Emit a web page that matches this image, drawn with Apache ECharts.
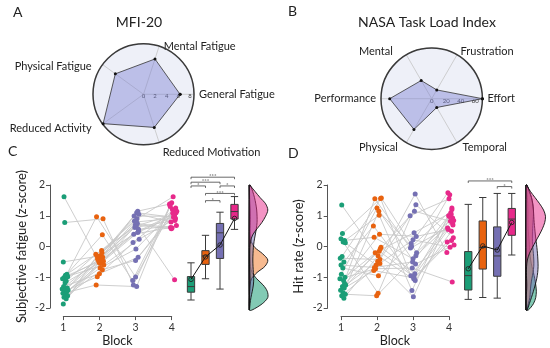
<!DOCTYPE html>
<html><head><meta charset="utf-8">
<script src="https://cdn.jsdelivr.net/npm/echarts@6/dist/echarts.min.js"></script>
<style>html,body{margin:0;padding:0;background:#fff}#c{width:550px;height:348px}</style>
</head><body><div id="c"></div>
<script>
// ---------- Panel A / B data ----------
const mfiLabels = ['General Fatigue','Mental Fatigue','Physical Fatigue','Reduced Activity','Reduced Motivation'];
const mfiValues = [6.3, 6.4, 6.0, 8.6, 6.0];
const mfiTicks = [0, 2, 4, 6, 8];
const tlxLabels = ['Effort','Frustration','Mental','Performance','Physical','Temporal'];
const tlxValues = [70, 14, 29, 58, 49, 14];
const tlxTicks = [0, 20, 40, 60];

// ---------- Panel C / D data ----------
const blocks = ['1','2','3','4'];
const yTicks = [-2, -1, 0, 1, 2];
// subjective fatigue (z-score), per block, same subject order
const fatB1 = [1.62,0.78,-0.50,-0.90,-0.93,-0.98,-1.00,-1.05,-1.12,-1.18,-1.30,-1.35,-1.38,-1.40,-1.42,-1.45,-1.48,-1.52,-1.55,-1.60,-1.65,-1.70,-1.87,-0.95];
const fatB2 = [-0.40,0.90,-0.30,0.97,-0.13,-0.45,-0.60,0.38,-0.25,-0.50,-0.88,-0.35,-0.42,-0.20,-0.70,-0.98,-0.48,-1.25,-0.38,-0.52,-0.75,-0.55,-0.30,-0.45];
const fatB3 = [1.10,-1.25,0.50,-0.99,0.83,1.15,0.24,-1.10,0.67,0.40,-0.35,0.90,0.62,1.05,-0.08,0.13,0.75,-1.30,0.99,0.56,-0.45,0.46,0.70,0.80];
const fatB4 = [0.95,1.30,1.10,1.20,-1.08,1.38,0.90,1.42,1.05,0.62,1.15,1.62,0.85,0.80,1.18,1.25,0.60,1.35,0.98,0.68,1.08,1.00,0.58,0.92];
// hit rate (z-score)
const hitB1 = [1.35,0.42,0.25,0.20,0.15,0.12,-0.32,-0.38,-0.50,-0.70,-0.90,-1.00,-1.05,-1.10,-1.25,-1.30,-1.35,-1.42,-1.50,-1.55,-1.60,-1.68,-0.60,-1.20];
const hitB2 = [-0.20,1.56,-1.52,0.30,1.02,-0.60,1.58,-0.42,0.67,-0.95,1.25,-0.08,-0.72,0.40,-0.48,1.55,-0.02,-0.78,1.15,-1.60,-0.55,-0.30,-0.68,-0.15];
const hitB3 = [0.45,-0.95,1.36,-0.40,-1.43,1.71,-0.20,1.00,-1.05,0.10,-0.57,1.15,-0.70,0.33,-1.63,-0.05,-0.88,-1.02,0.00,-0.30,0.22,-1.10,-0.50,-0.98];
const hitB4 = [1.10,0.60,0.29,1.68,1.25,-0.19,0.93,1.55,0.20,1.75,0.05,0.82,-1.15,0.55,1.05,0.70,0.98,0.15,1.20,0.85,-0.02,0.50,1.00,0.75];
// horizontal jitter of the dots (block units)
const jit1 = [0.02,0.04,0.00,0.10,0.06,0.12,0.03,-0.02,0.08,0.05,0.01,0.11,-0.03,0.07,0.13,0.04,0.09,-0.01,0.06,0.12,0.02,0.08,0.00,0.10];
const jit2 = [-0.05,0.10,0.03,-0.08,0.06,-0.02,0.12,0.08,-0.10,0.04,0.00,0.09,-0.04,0.07,0.02,-0.06,0.11,-0.09,0.05,-0.01,0.08,0.03,-0.07,0.06];
const jit3 = [0.03,-0.06,0.08,0.00,-0.03,0.06,0.10,-0.08,0.02,-0.05,0.07,0.04,-0.02,0.09,0.01,-0.07,0.05,0.03,-0.04,0.08,0.00,0.06,-0.01,0.02];
const jit4 = [0.05,-0.04,0.12,0.02,0.08,-0.06,0.10,0.00,0.07,-0.03,0.14,0.04,0.09,-0.02,0.06,0.11,0.01,-0.05,0.08,0.13,0.03,0.07,-0.01,0.10];
// box stats [min, Q1, median, Q3, max]
const fatBox = [[-1.68,-1.43,-1.25,-0.93,-0.49],[-1.00,-0.54,-0.27,-0.10,0.39],[-1.33,-0.35,0.47,0.77,1.13],[0.58,0.91,1.15,1.38,1.63]];
const hitBox = [[-1.66,-1.36,-0.90,-0.13,1.38],[-1.60,-0.69,0.00,0.85,1.60],[-1.62,-0.92,-0.27,0.66,1.73],[-0.24,0.39,0.91,1.25,1.73]];
const fatMeans = [-1.02, -0.30, 0.08, 0.93];
const hitMeans = [-0.68, 0.05, -0.08, 0.80];
// significance brackets [from block idx, to block idx, height]
const fatSig = [[0,3,2.25],[0,2,2.09],[0,1,1.97],[2,3,1.97],[1,3,1.73],[1,2,1.50]];
const fatSigLabels = ['***','***','*','*','***','*'];
const hitSig = [[0,3,2.13],[2,3,1.95]];
const hitSigLabels = ['***','*'];
// half-violin widths (relative) at these levels
const vLevels = [2.0,1.8,1.6,1.4,1.2,1.0,0.8,0.6,0.4,0.2,0,-0.2,-0.4,-0.6,-0.8,-1.0,-1.2,-1.4,-1.6,-1.8,-2.0];
const fatViolin = [
  [0,0.01,0.02,0.03,0.04,0.04,0.04,0.03,0.02,0.02,0.02,0.03,0.04,0.06,0.15,0.40,0.75,0.97,1.0,0.7,0.15],
  [0,0,0.01,0.02,0.04,0.05,0.05,0.04,0.05,0.10,0.30,0.72,1.0,0.85,0.42,0.12,0.04,0.02,0.01,0,0],
  [0.05,0.18,0.28,0.35,0.40,0.42,0.42,0.38,0.32,0.26,0.22,0.20,0.19,0.20,0.22,0.24,0.22,0.16,0.09,0.04,0.01],
  [0.02,0.30,0.58,0.88,1.0,0.88,0.68,0.42,0.18,0.07,0.03,0.02,0.02,0.02,0.03,0.04,0.03,0.02,0.01,0,0]
];
const hitViolin = [
  [0.02,0.05,0.07,0.09,0.10,0.10,0.10,0.11,0.13,0.16,0.18,0.20,0.24,0.30,0.38,0.45,0.50,0.53,0.50,0.38,0.12],
  [0.05,0.15,0.28,0.35,0.38,0.38,0.36,0.34,0.33,0.33,0.35,0.38,0.40,0.40,0.36,0.30,0.25,0.22,0.20,0.12,0.04],
  [0.05,0.18,0.28,0.34,0.38,0.40,0.42,0.45,0.48,0.52,0.56,0.59,0.61,0.62,0.60,0.55,0.47,0.38,0.28,0.17,0.06],
  [0.02,0.22,0.46,0.70,0.90,1.0,0.96,0.84,0.68,0.50,0.33,0.17,0.07,0.03,0.02,0.03,0.04,0.03,0.01,0,0]
];

// ---------- styling (layout only) ----------
const colors = ['#1b9e77','#e8620f','#7570b3','#e7298a'];
const violinFill = ['rgba(27,158,119,0.55)','rgba(242,140,70,0.6)','rgba(117,112,179,0.5)','rgba(231,41,138,0.5)'];
const FONT = 'Lato';
const TXT = '#222';
// label nudges [top, right, bottom, left] padding for radar category labels
const mfiLabelPad = [[0,0,0,0],[0,0,-10.5,3],[0,7,-10,0],[-4,7,0,0],[0,0,0,2]];
const tlxLabelPad = [[0,0,0,0],[0,0,-6.5,1],[0,11,-6.5,0],[0,0,0,0],[-5,6,0,0],[-5,0,0,3]];

// ---------- build ----------
const grids = [], xAxes = [], yAxes = [], series = [];

function polarLoop(vals) {
  const n = vals.length;
  const d = vals.map((v, i) => [v, i * 360 / n]);
  d.push([vals[0], 360]);
  return d;
}

function addPanel(cfg) {
  const g = grids.length;
  const top = 185, h = 125;
  grids.push({left: cfg.scLeft, top: top, width: cfg.scWidth, height: h});
  grids.push({left: cfg.boxLeft, top: top, width: 58, height: h});
  grids.push({left: cfg.vLeft, top: top, width: cfg.vWidth, height: h});
  const axisCol = '#555';
  xAxes.push({gridIndex: g, type: 'value', min: 1, max: 4, interval: 1, offset: 8,
    axisLine: {show: true, onZero: false, lineStyle: {color: axisCol, width: 1}},
    axisTick: {show: true, length: 4, lineStyle: {color: axisCol}},
    axisLabel: {color: '#333', fontSize: 10.5, fontFamily: FONT, margin: 6},
    splitLine: {show: false},
    name: 'Block', nameLocation: 'middle', nameGap: 17,
    nameTextStyle: {fontSize: 12.5, color: TXT, fontFamily: FONT}});
  yAxes.push({gridIndex: g, type: 'value', min: yTicks[0], max: yTicks[yTicks.length-1], interval: 1, offset: 13.3,
    axisLine: {show: true, onZero: false, lineStyle: {color: axisCol, width: 1}},
    axisTick: {show: true, length: 4, lineStyle: {color: axisCol}},
    axisLabel: {color: '#333', fontSize: 10.5, fontFamily: FONT, margin: 5},
    splitLine: {show: false},
    name: cfg.yName, nameLocation: 'middle', nameGap: cfg.nameGap, nameRotate: 90,
    nameTextStyle: {fontSize: 13, color: TXT, fontFamily: FONT}});
  xAxes.push({gridIndex: g + 1, type: 'category', data: blocks, show: false});
  yAxes.push({gridIndex: g + 1, type: 'value', min: -2, max: 2, show: false});
  xAxes.push({gridIndex: g + 2, type: 'value', min: 0, max: 1, show: false});
  yAxes.push({gridIndex: g + 2, type: 'value', min: -2, max: 2, show: false});

  const vals = cfg.vals, jits = [jit1, jit2, jit3, jit4];
  // connecting lines per subject
  const conn = [];
  for (let s = 0; s < vals[0].length; s++) {
    for (let b = 0; b < 4; b++) conn.push([b + 1 + jits[b][s], vals[b][s]]);
    conn.push(['-', '-']);
  }
  series.push({type: 'line', xAxisIndex: g, yAxisIndex: g, data: conn, showSymbol: false, symbol: 'none',
    connectNulls: false, clip: false, silent: true, z: 1,
    lineStyle: {color: '#c8c8c8', width: 0.9}});
  for (let b = 0; b < 4; b++) {
    series.push({type: 'scatter', xAxisIndex: g, yAxisIndex: g, clip: false, silent: true, z: 3,
      symbolSize: 5, itemStyle: {color: colors[b], opacity: 1},
      data: vals[b].map((v, s) => [b + 1 + jits[b][s], v])});
  }
  // boxplots
  series.push({type: 'boxplot', xAxisIndex: g + 1, yAxisIndex: g + 1, boxWidth: [7.3, 7.3], silent: true, z: 3,
    data: cfg.box.map((bx, i) => ({value: bx, itemStyle: {color: colors[i], borderColor: '#3a3a3a', borderWidth: 1}}))});
  series.push({type: 'line', xAxisIndex: g + 1, yAxisIndex: g + 1, data: cfg.means, silent: true, z: 5,
    symbol: 'circle', symbolSize: 4.5, showSymbol: true,
    itemStyle: {color: 'rgba(0,0,0,0)', borderColor: '#222', borderWidth: 0.9},
    lineStyle: {color: '#111', width: 1}});
  // significance brackets
  const labels = cfg.sigLabels;
  series.push({type: 'custom', xAxisIndex: g + 1, yAxisIndex: g + 1, silent: true, z: 6, clip: false,
    data: cfg.sig,
    renderItem: function (params, api) {
      const a = api.coord([api.value(0), api.value(2)]);
      const b = api.coord([api.value(1), api.value(2)]);
      return {type: 'group', children: [
        {type: 'polyline', shape: {points: [[a[0], a[1] + 2], [a[0], a[1]], [b[0], b[1]], [b[0], b[1] + 2]]},
          style: {stroke: '#444', lineWidth: 0.8, fill: null}},
        {type: 'text', style: {text: labels[params.dataIndex], x: (a[0] + b[0]) / 2, y: a[1] + 2.2,
          align: 'center', verticalAlign: 'bottom', fontSize: 6, fill: '#444', fontFamily: FONT}}
      ]};
    }});
  // half violins
  for (let b = 0; b < 4; b++) {
    const w = cfg.violin[b];
    series.push({type: 'custom', xAxisIndex: g + 2, yAxisIndex: g + 2, silent: true, z: 2, clip: false,
      data: w.map((x, k) => [x, vLevels[k]]),
      renderItem: function (params, api) {
        if (params.dataIndex !== 0) return null;
        const pts = [api.coord([0, vLevels[0]])];
        for (let k = 0; k < w.length; k++) pts.push(api.coord([w[k], vLevels[k]]));
        pts.push(api.coord([0, vLevels[vLevels.length - 1]]));
        return {type: 'polygon', shape: {points: pts, smooth: 0.3},
          style: {fill: violinFill[b], stroke: '#111', lineWidth: 0.9}};
      }});
  }
}

addPanel({scLeft: 63.3, scWidth: 108.4, boxLeft: 183.75, vLeft: 249.3, vWidth: 18.5,
  yName: 'Subjective fatigue (z-score)', nameGap: 22,
  vals: [fatB1, fatB2, fatB3, fatB4], box: fatBox, means: fatMeans,
  sig: fatSig, sigLabels: fatSigLabels, violin: fatViolin});
addPanel({scLeft: 341, scWidth: 108, boxLeft: 461, vLeft: 526, vWidth: 19.5,
  yName: 'Hit rate (z-score)', nameGap: 22,
  vals: [hitB1, hitB2, hitB3, hitB4], box: hitBox, means: hitMeans,
  sig: hitSig, sigLabels: hitSigLabels, violin: hitViolin});

// radar-like polar panels
function angleAxis(pi, names, pads) {
  const step = 360 / names.length;
  const rich = {};
  pads.forEach((p, i) => { rich['l' + i] = {padding: p, fontSize: 11, fontFamily: FONT, color: TXT}; });
  return {polarIndex: pi, type: 'value', min: 0, max: 360, interval: step, startAngle: 0, clockwise: false,
    axisLine: {show: true, lineStyle: {color: '#3a3a3a', width: 1.5}},
    axisTick: {show: false},
    axisLabel: {show: true, margin: 5, fontSize: 11, fontFamily: FONT, color: TXT, rich: rich,
      formatter: function (v) { const i = Math.round(v / step); return v < 360 ? '{l' + i + '|' + names[i] + '}' : ''; }},
    splitLine: {show: true, lineStyle: {color: '#c4c4c4', width: 0.8}}};
}
function radiusAxis(pi, max, interval, ticks) {
  return {polarIndex: pi, type: 'value', min: 0, max: max, interval: interval,
    axisLine: {show: false}, axisTick: {show: false},
    axisLabel: {show: true, fontSize: 6, color: '#444', fontFamily: FONT, margin: -5, showMaxLabel: true, hideOverlap: false,
      formatter: function (v) { return ticks.indexOf(v) >= 0 ? String(v) : ''; }},
    splitLine: {show: true, lineStyle: {color: '#c4c4c4', width: 0.8}},
    splitArea: {show: true, areaStyle: {color: ['#eef0f8']}}};
}
function radarSeries(pi, vals) {
  return {type: 'line', coordinateSystem: 'polar', polarIndex: pi, data: polarLoop(vals), silent: true,
    symbol: 'circle', symbolSize: 3, itemStyle: {color: '#111'},
    lineStyle: {color: '#333', width: 0.8}, areaStyle: {color: 'rgba(120,124,210,0.6)'}, z: 3};
}
series.push(radarSeries(0, mfiValues));
series.push(radarSeries(1, tlxValues));

const titleStyle = {fontFamily: FONT, fontSize: 14, fontWeight: 'normal', color: TXT};
const option = {
  animation: false,
  title: [
    {text: 'A', left: 13, top: 5, padding: 0, textStyle: titleStyle},
    {text: 'B', left: 288, top: 4, padding: 0, textStyle: titleStyle},
    {text: 'C', left: 8, top: 144, padding: 0, textStyle: titleStyle},
    {text: 'D', left: 288, top: 146, padding: 0, textStyle: titleStyle},
    {text: 'MFI-20', left: 139, top: 15, padding: 0, textAlign: 'center', textStyle: titleStyle},
    {text: 'NASA Task Load Index', left: 427, top: 15, padding: 0, textAlign: 'center', textStyle: titleStyle}
  ],
  polar: [{center: [143.5, 94.3], radius: 50.5}, {center: [431.7, 98.7], radius: 50.7}],
  angleAxis: [angleAxis(0, mfiLabels, mfiLabelPad), angleAxis(1, tlxLabels, tlxLabelPad)],
  radiusAxis: [radiusAxis(0, 8.7, 2, mfiTicks), radiusAxis(1, 70, 10, tlxTicks)],
  grid: grids, xAxis: xAxes, yAxis: yAxes, series: series
};
const chart = echarts.init(document.getElementById('c'), null, {renderer: 'canvas'});
chart.setOption(option);
</script></body></html>
